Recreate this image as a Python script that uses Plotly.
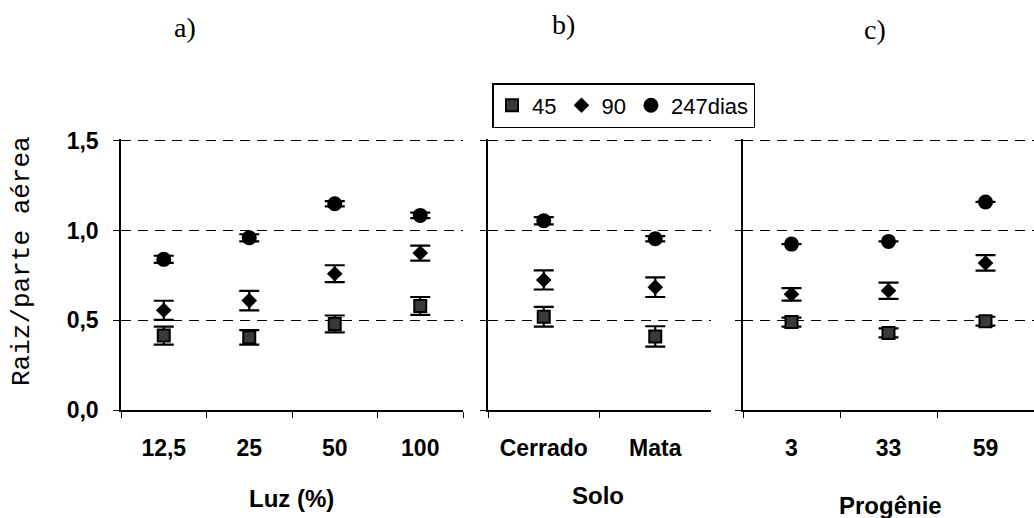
import plotly.graph_objects as go

# ---------------- data ----------------
series_names = ["45", "90", "247dias"]

luz_cats = ["12,5", "25", "50", "100"]
luz_45 = [0.415, 0.405, 0.48, 0.58]
luz_45_err = [0.05, 0.04, 0.047, 0.05]
luz_90 = [0.556, 0.61, 0.76, 0.875]
luz_90_err = [0.053, 0.054, 0.047, 0.042]
luz_247 = [0.84, 0.96, 1.15, 1.085]
luz_247_err = [0.02, 0.02, 0.015, 0.015]

solo_cats = ["Cerrado", "Mata"]
solo_45 = [0.52, 0.41]
solo_45_err = [0.055, 0.057]
solo_90 = [0.725, 0.685]
solo_90_err = [0.053, 0.055]
solo_247 = [1.055, 0.955]
solo_247_err = [0.02, 0.015]

prog_cats = ["3", "33", "59"]
prog_45 = [0.49, 0.43, 0.495]
prog_45_err = [0.025, 0.025, 0.025]
prog_90 = [0.645, 0.665, 0.82]
prog_90_err = [0.035, 0.045, 0.043]
prog_247 = [0.925, 0.94, 1.16]
prog_247_err = [0.0, 0.0, 0.0]

y_ticks = [0.0, 0.5, 1.0, 1.5]
panel_titles = ["a)", "b)", "c)"]
x_titles = ["Luz (%)", "Solo", "Progênie"]
y_title = "Raiz/parte aérea"

# ---------------- styles ----------------
W, H = 1034, 518
ML, MR, MT, MB = 0, 0, 139, 108
PH = H - MT - MB
Y_TOP = 1.511

styles = [
    dict(symbol="square", size=12, color="#3a3a3a", line=dict(color="black", width=2)),
    dict(symbol="diamond", size=12, color="black", line=dict(color="black", width=0)),
    dict(symbol="circle", size=15, color="black", line=dict(color="black", width=0)),
]

panels = [
    (luz_cats, [(luz_45, luz_45_err), (luz_90, luz_90_err), (luz_247, luz_247_err)], "x", "y"),
    (solo_cats, [(solo_45, solo_45_err), (solo_90, solo_90_err), (solo_247, solo_247_err)], "x2", "y2"),
    (prog_cats, [(prog_45, prog_45_err), (prog_90, prog_90_err), (prog_247, prog_247_err)], "x3", "y3"),
]

fig = go.Figure()
for pi, (cats, ser, xa, ya) in enumerate(panels):
    for si, (vals, errs) in enumerate(ser):
        st = styles[si]
        fig.add_trace(go.Scatter(
            x=cats, y=vals, mode="markers", name=series_names[si],
            legendgroup=series_names[si], showlegend=(pi == 0),
            xaxis=xa, yaxis=ya,
            marker=dict(symbol=st["symbol"], size=st["size"], color=st["color"], line=st["line"]),
            error_y=dict(type="data", array=errs, visible=True, color="black", thickness=2.2, width=10),
        ))

def px(x):
    return x / W

domains = [[px(121), px(463)], [px(488), px(711)], [px(743), 1.0]]
tickfont = dict(family="Liberation Sans, Arial, sans-serif", size=23, color="black", weight="bold")

for i, (cats, _, xa, ya) in enumerate(panels):
    sx = "" if i == 0 else str(i + 1)
    fig.update_layout(**{
        "xaxis" + sx: dict(
            domain=domains[i], type="category", range=[-0.5, len(cats) - 0.5],
            showline=True, linecolor="black", linewidth=1.5, showgrid=False, zeroline=False,
            ticks="outside", ticklen=6, tickcolor="black", tickwidth=1, tickson="boundaries",
            tickfont=tickfont, ticklabelstandoff=17, anchor="y" + sx, fixedrange=True,
        ),
        "yaxis" + sx: dict(
            domain=[0, 1], range=[0, Y_TOP], tickvals=y_ticks, tickformat=".1f",
            showline=True, linecolor="black", linewidth=1.5,
            showgrid=True, gridcolor="black", gridwidth=1.3, griddash="10px,7px",
            zeroline=False, ticks="outside", ticklen=6, tickcolor="black", tickwidth=1,
            showticklabels=(i == 0), tickfont=tickfont, ticklabelstandoff=10,
            anchor="x" + sx, fixedrange=True,
        ),
    })

def ypap(py):
    return (H - MB - py) / PH

annotations = []
for t, xp, yp in zip(panel_titles, [185, 563, 875], [27, 25, 30]):
    annotations.append(dict(text=t, x=px(xp), y=ypap(yp), xref="paper", yref="paper",
                            showarrow=False, xanchor="center", yanchor="middle",
                            font=dict(family="Liberation Serif, Times New Roman, serif", size=28, color="black")))
for t, xp, yp in zip(x_titles, [291, 598, 890], [498, 495, 505]):
    annotations.append(dict(text=t, x=px(xp), y=ypap(yp), xref="paper", yref="paper",
                            showarrow=False, xanchor="center", yanchor="middle",
                            font=dict(family="Liberation Sans, Arial, sans-serif", size=24, color="black", weight="bold")))
annotations.append(dict(text=y_title, x=px(22), y=ypap(261), xref="paper", yref="paper",
                        showarrow=False, xanchor="center", yanchor="middle", textangle=-90,
                        font=dict(family="Liberation Mono, Courier New, monospace", size=26, color="black")))

fig.update_layout(
    width=W, height=H,
    margin=dict(l=ML, r=MR, t=MT, b=MB, autoexpand=False),
    paper_bgcolor="white", plot_bgcolor="white",
    separators=",.",
    annotations=annotations,
    legend=dict(orientation="h", xref="container", yref="container",
                x=px(492), y=1 - 83 / H, xanchor="left", yanchor="top",
                bordercolor="black", borderwidth=1.5, bgcolor="white",
                font=dict(family="Liberation Sans, Arial, sans-serif", size=22, color="black"),
                itemwidth=30, tracegroupgap=0),
    showlegend=True,
)

fig.write_html("out.html")
